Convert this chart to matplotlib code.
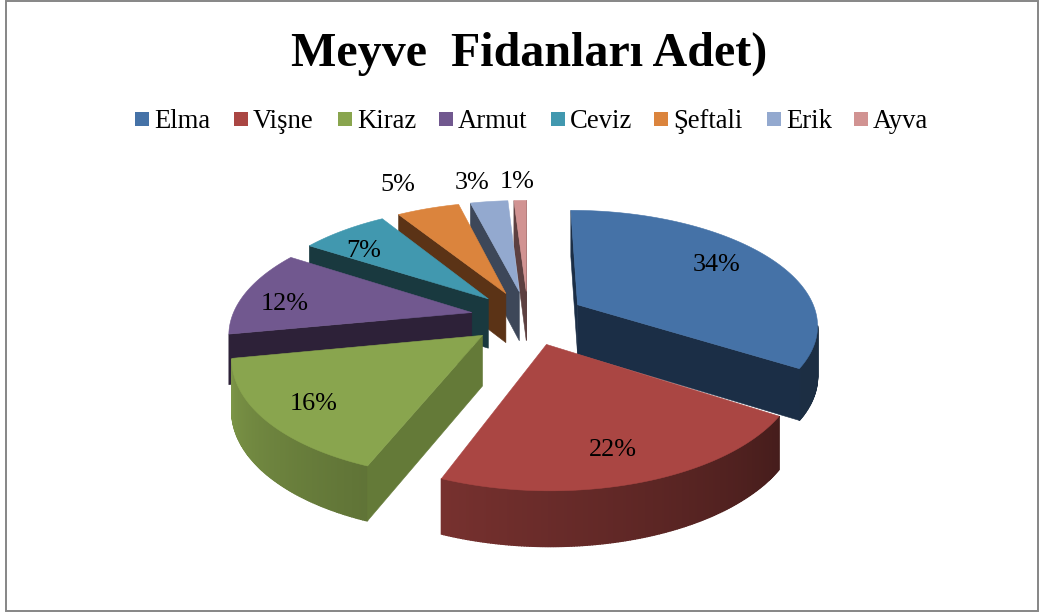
import numpy as np
import matplotlib
matplotlib.use("Agg")
import matplotlib.pyplot as plt
from matplotlib.patches import Rectangle, Polygon

categories = ["Elma", "Vişne", "Kiraz", "Armut", "Ceviz", "Şeftali", "Erik", "Ayva"]
values = [34, 22, 16, 12, 7, 5, 3, 1]
top_colors = ["#4572A7", "#AA4643", "#89A54E", "#71588F", "#4198AF", "#DB843D", "#93A9CF", "#D19392"]
cut_colors = ["#1B2E46", "#431A18", "#647A38", "#2D2138", "#19393F", "#5B3316", "#3D4759", "#5D4040"]
label_xy = [(717, 265), (613, 450), (314, 404), (285, 304), (364, 251), (398, 185), (472, 183), (517, 182)]
legend_sq_x = [135, 234, 338, 439, 551, 654, 767, 854]

W, H = 1043, 614
CX, CY, S, ST, K, E, D = 528, 317.6, 240, 113.3, 0.16, 0.24, 50

fig = plt.figure(figsize=(W / 100, H / 100), dpi=100)
ax = fig.add_axes([0, 0, 1, 1])
ax.set_xlim(0, W)
ax.set_ylim(H, 0)
ax.axis("off")
SERIF = "Liberation Serif"


def project(u, v, h=0.0):
    w = 1 - K * v
    return CX + S * u / w, CY + ST * v / w + D * h / np.sqrt(w)


def mix(col, f):
    return tuple(c * f for c in matplotlib.colors.to_rgb(col))


def shade(theta_deg):
    return 0.40 + 0.55 * np.clip((theta_deg - 120) / 150, 0, 1)


def side(p, q, col, lw):
    """Extruded face for the directed rim edge p -> q of a clockwise top; culled if it looks away."""
    a, b = project(*p), project(*q)
    if b[0] >= a[0]:
        return
    quad = [a, b, project(*q, 1), project(*p, 1)]
    ax.add_patch(Polygon(quad, closed=True, facecolor=col, edgecolor=col, lw=lw))


total = sum(values)
wedges = []
start = 0.0
for i, val in enumerate(values):
    end = start + val / total * 360
    mid = np.radians((start + end) / 2)
    wedges.append((-E * np.cos(mid), i, start, end, E * np.sin(mid)))
    start = end

for dv, i, a0, a1, du in sorted(wedges):
    th = np.radians(np.linspace(a0, a1, max(int(a1 - a0) * 2, 6)))
    pts = list(zip(du + np.sin(th), dv - np.cos(th)))
    for j in range(len(pts) - 1):
        side(pts[j], pts[j + 1], mix(top_colors[i], shade(np.degrees(th[j]))), 1.0)
    side((du, dv), pts[0], cut_colors[i], 0.4)
    side(pts[-1], (du, dv), cut_colors[i], 0.4)
    outline = [project(du, dv)] + [project(u, v) for u, v in pts]
    ax.add_patch(Polygon(outline, closed=True, facecolor=top_colors[i], edgecolor=top_colors[i], lw=0.4))

for (x, y), val in zip(label_xy, values):
    ax.text(x, y, f"{val}%", ha="center", va="center", family=SERIF, fontsize=18.8, color="black")

for x, name, col in zip(legend_sq_x, categories, top_colors):
    ax.add_patch(Rectangle((x, 112), 14, 14, facecolor=col, edgecolor="none"))
    ax.text(x + 19, 122, name, ha="left", va="center", family=SERIF, fontsize=19.2, color="black")

ax.text(529.5, 54, "Meyve  Fidanları Adet)", ha="center", va="center", family=SERIF,
        fontweight="bold", fontsize=34.6, color="black")

ax.add_patch(Rectangle((5.5, 1), 1032.5, 609.5, fill=False, edgecolor="#868686", lw=1.4))
fig.savefig("out.png", dpi=100, facecolor="white")
